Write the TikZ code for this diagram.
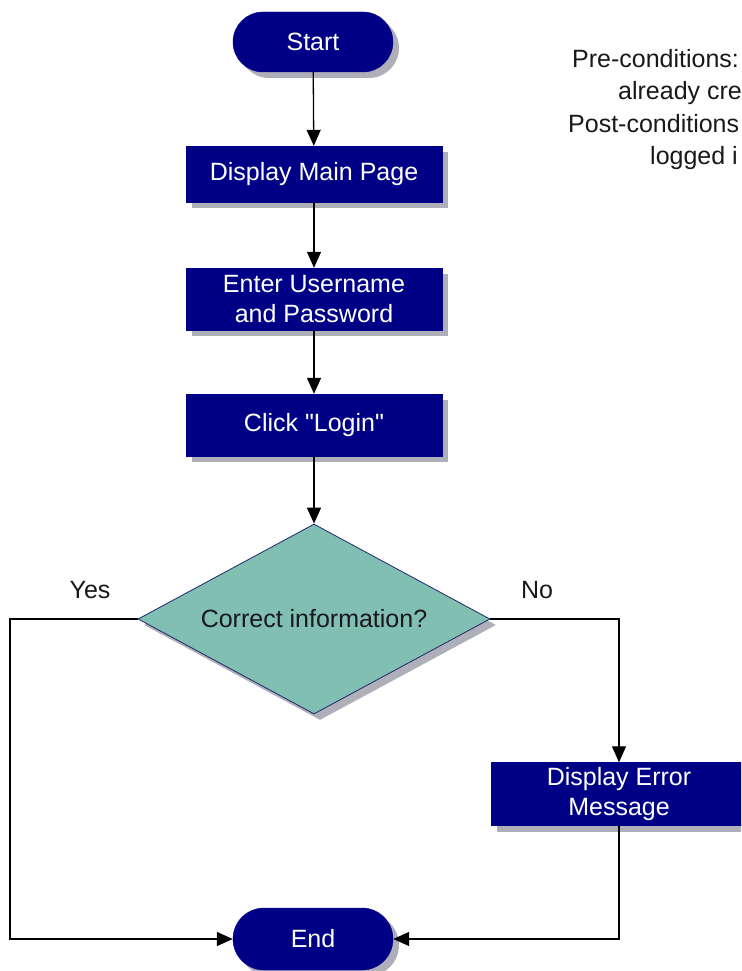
\documentclass[tikz,border=0pt]{standalone}
\usepackage{fontspec}
\setmainfont{Liberation Sans}[Ligatures=TeXOff]
\usetikzlibrary{arrows.meta,shapes.geometric,shapes.misc,shadows}
\definecolor{navyb}{RGB}{0,0,135}
\definecolor{tealf}{RGB}{128,191,178}
\definecolor{diaedge}{RGB}{30,40,110}
\definecolor{shadowg}{RGB}{175,175,185}
\definecolor{txtg}{RGB}{25,25,25}
\newcommand\diagfont{\fontsize{25}{30}\selectfont}
\tikzset{
  shad/.style={drop shadow={shadow xshift=6pt,shadow yshift=-6pt,fill=shadowg,opacity=1}},
  procbox/.style={rectangle,fill=navyb,draw=navyb,text=white,minimum width=256pt,inner sep=0pt,align=center,shad,font=\diagfont},
  termbox/.style={rounded rectangle,fill=navyb,draw=navyb,text=white,minimum width=160pt,inner sep=0pt,shad,font=\diagfont},
  decbox/.style={diamond,aspect=1.85,fill=tealf,draw=diaedge,line width=0.8pt,minimum width=352pt,minimum height=190pt,inner sep=0pt,shad,font=\diagfont,text=txtg},
  conn/.style={draw=black,line width=1.3pt},
  arr/.style={conn,-{Triangle[width=14pt,length=16pt]}},
  lbl/.style={font=\diagfont,text=txtg,inner sep=0pt},
  note/.style={font=\diagfont,text=txtg,inner sep=0pt,anchor=base west}
}
\begin{document}
\begin{tikzpicture}[x=1pt,y=-1pt]
\useasboundingbox (0,0) rectangle (741,971);
\clip (0,0) rectangle (741,971);
\fill[white] (0,0) rectangle (741,971);

\node[termbox,minimum height=60pt] (start) at (313,42) {Start};
\node[procbox,minimum height=56pt] (main) at (314,174) {Display Main Page};
\node[procbox,minimum height=62pt] (user) at (314,299) {Enter Username\\and Password};
\node[procbox,minimum height=62pt] (login) at (314,425) {Click "Login"};
\node[decbox] (dec) at (314,619) {Correct information?};
\node[procbox,minimum height=63pt] (err) at (619,794) {Display Error\\Message};
\node[termbox,minimum height=62pt] (end) at (313,939) {End};

\node[lbl] (yes) at (90,590) {Yes};
\node[lbl] (no) at (537,590) {No};

\node[note] (n1) at (572,68) {Pre-conditions:};
\node[note] (n2) at (618,100) {already cre};
\node[note] (n3) at (568,132) {Post-conditions};
\node[note] (n4) at (650,164) {logged i};

\coordinate (lc) at (10,619);

\draw[arr] (start) -- (main);
\draw[arr] (main) -- (user);
\draw[arr] (user) -- (login);
\draw[arr] (login) -- (dec);
\draw[arr] (dec.west) -- (lc) |- (end.west);
\draw[arr] (dec.east) -| (err.north);
\draw[arr] (err.south) |- (end.east);
\end{tikzpicture}
\end{document}
